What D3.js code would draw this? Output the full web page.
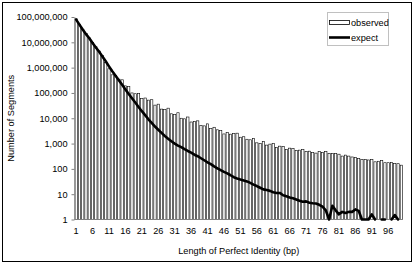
<!DOCTYPE html>
<html>
<head>
<meta charset="utf-8">
<script src="https://cdn.jsdelivr.net/npm/d3@7"></script>
<style>
	body { margin: 0; background: #fff; }
	text { font-family: "Liberation Sans", Arial, sans-serif; }
</style>
</head>
<body>
<div id="chart"></div>
<script>

// Length of perfect identity (bp), 1..100
var lengths = d3.range(1, 101);

// observed segment counts
var observed = [
	85000000, 52000000, 33000000, 22000000, 15000000, 10000000, 6700000, 4500000, 3000000, 1600000,
	900000, 520000, 480000, 350000, 330000, 190000, 180000, 100000, 93000, 95000,
	60000, 63000, 52000, 54000, 33000, 36000, 23000, 22000, 25000, 15000,
	14000, 16500, 10000, 9500, 11200, 7100, 7400, 7900, 5100, 5000,
	6000, 3900, 4400, 3500, 3300, 2400, 2700, 2350, 2500, 2570,
	1780, 1860, 1480, 1410, 1580, 1070, 1000, 1200, 870, 950,
	1000, 710, 790, 760, 590, 660, 630, 525, 550, 590,
	480, 500, 440, 420, 480, 440, 480, 410, 400, 410,
	380, 320, 350, 320, 295, 280, 255, 235, 235, 225,
	235, 190, 200, 215, 175, 175, 180, 165, 160, 140
];

// expected segment counts (null = nothing drawn)
var expect = [
	79000000, 50000000, 32000000, 21000000, 14500000, 9500000, 6300000, 4200000, 2750000, 1780000,
	1120000, 720000, 480000, 316000, 209000, 138000, 91000, 62000, 42000, 28000,
	19000, 13200, 9100, 6500, 4700, 3500, 2630, 2000, 1550, 1230,
	1000, 830, 720, 600, 510, 440, 363, 316, 263, 219,
	182, 155, 126, 105, 89, 76, 66, 56, 47, 42,
	38, 35, 32, 28, 24, 21, 18, 15.5, 14.5, 13.5,
	12, 11.2, 11.2, 9.1, 8.3, 7.4, 6.9, 6.2, 5.5, 5.0,
	5.2, 4.6, 4.4, 4.3, 3.8, 3.2, 2.3, 1, 3.5, 2.3,
	1.6, 2, 1.8, 2, 2, 2.5, 2.2, 1, 1, 1,
	1.6, 1, null, 1, 1, null, 1, 1.5, 1, null
];

var yTicks = [1, 10, 100, 1000, 10000, 100000, 1000000, 10000000, 100000000];
var xTickLabels = [1, 6, 11, 16, 21, 26, 31, 36, 41, 46, 51, 56, 61, 66, 71, 76, 81, 86, 91, 96];

function init() {

	var w = 416;
	var h = 265;

	var plotLeft = 74.5;
	var plotRight = 403;
	var plotTop = 17;
	var plotBottom = 219.5;

	var svg = d3.select("#chart")
				.append("svg")
				.attr("width", w)
				.attr("height", h);

	// outer chart border
	svg.append("rect")
		.attr("x", 2.5)
		.attr("y", 2.5)
		.attr("width", 409)
		.attr("height", 259)
		.attr("fill", "#fff")
		.attr("stroke", "#000")
		.attr("stroke-width", 1);

	var xScale = d3.scaleBand()
				.domain(lengths)
				.range([plotLeft, plotRight])
				.paddingInner(0.3)
				.paddingOuter(0.15);

	var yScale = d3.scaleLog()
				.domain([1, 100000000])
				.range([plotBottom, plotTop]);

	// bars
	svg.selectAll("rect.bar")
		.data(observed)
		.enter()
		.append("rect")
		.attr("class", "bar")
		.attr("x", function(d, i) {
			return xScale(lengths[i]);
		})
		.attr("y", function(d) {
			return yScale(d);
		})
		.attr("width", xScale.bandwidth())
		.attr("height", function(d) {
			return plotBottom - yScale(d);
		})
		.attr("fill", "#fff")
		.attr("stroke", "#000")
		.attr("stroke-width", 0.6);

	// y axis
	var yAxis = d3.axisLeft(yScale)
				.tickValues(yTicks)
				.tickFormat(d3.format(","))
				.tickSizeInner(3)
				.tickSizeOuter(0)
				.tickPadding(4);

	var gy = svg.append("g")
				.attr("transform", "translate(" + plotLeft + ",0)")
				.call(yAxis);
	gy.select(".domain").attr("stroke", "#808080");
	gy.selectAll(".tick line").attr("stroke", "#808080");
	gy.selectAll(".tick text")
		.attr("font-size", "9.2px")
		.attr("font-family", "'Liberation Sans', Arial, sans-serif")
		.attr("fill", "#000");

	// x axis
	var xAxis = d3.axisBottom(xScale)
				.tickValues(xTickLabels)
				.tickSizeInner(0)
				.tickSizeOuter(0)
				.tickPadding(8);

	var gx = svg.append("g")
				.attr("transform", "translate(0," + plotBottom + ")")
				.call(xAxis);
	gx.select(".domain")
		.attr("stroke", "#808080")
		.attr("d", "M" + plotLeft + ",0H" + plotRight);
	gx.selectAll(".tick text")
		.attr("font-size", "9.2px")
		.attr("font-family", "'Liberation Sans', Arial, sans-serif")
		.attr("fill", "#000");

	// expected line
	var line = d3.line()
				.defined(function(d) { return d != null; })
				.x(function(d, i) { return xScale(lengths[i]) + xScale.bandwidth() / 2; })
				.y(function(d) { return yScale(d); });

	svg.append("path")
		.datum(expect)
		.attr("d", line)
		.attr("fill", "none")
		.attr("stroke", "#000")
		.attr("stroke-width", 2.6)
		.attr("stroke-linejoin", "round")
		.attr("stroke-linecap", "round");

	// axis titles
	svg.append("text")
		.attr("x", (plotLeft + plotRight) / 2)
		.attr("y", 254)
		.attr("text-anchor", "middle")
		.attr("font-size", "9.2px")
		.text("Length of Perfect Identity (bp)");

	svg.append("text")
		.attr("transform", "translate(13.5," + ((plotTop + plotBottom) / 2) + ") rotate(-90)")
		.attr("text-anchor", "middle")
		.attr("font-size", "9.2px")
		.text("Number of Segments");

	// legend
	var legend = svg.append("g");

	legend.append("rect")
		.attr("x", 327.5)
		.attr("y", 12.5)
		.attr("width", 61)
		.attr("height", 33)
		.attr("fill", "#fff")
		.attr("stroke", "#c0c0c0");

	legend.append("rect")
		.attr("x", 329.5)
		.attr("y", 20.5)
		.attr("width", 20)
		.attr("height", 4)
		.attr("fill", "#fff")
		.attr("stroke", "#000")
		.attr("stroke-width", 0.8);

	legend.append("text")
		.attr("x", 351)
		.attr("y", 26)
		.attr("font-size", "9.2px")
		.text("observed");

	legend.append("line")
		.attr("x1", 329)
		.attr("x2", 350)
		.attr("y1", 37.5)
		.attr("y2", 37.5)
		.attr("stroke", "#000")
		.attr("stroke-width", 2.6);

	legend.append("text")
		.attr("x", 351)
		.attr("y", 40.5)
		.attr("font-size", "9.2px")
		.text("expect");

}

window.onload = init;
</script>
</body>
</html>
